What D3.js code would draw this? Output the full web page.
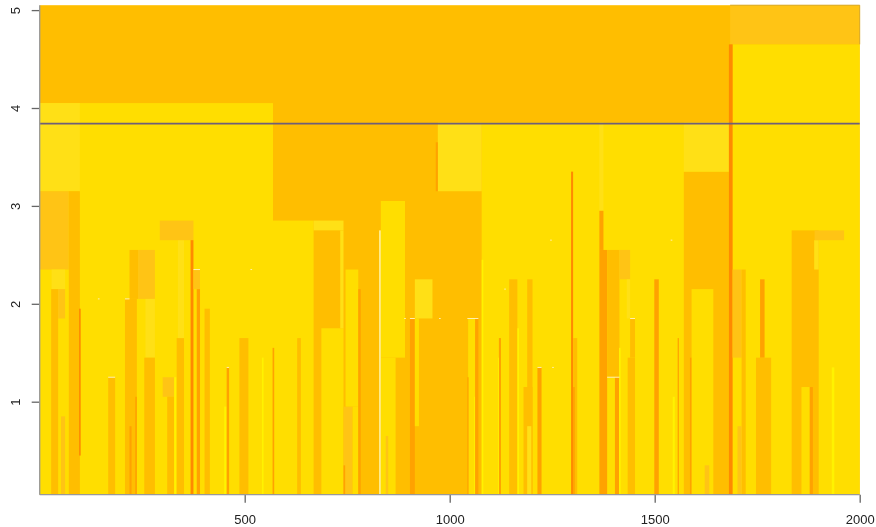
<!DOCTYPE html>
<html>
<head>
<meta charset="utf-8">
<script src="https://cdn.jsdelivr.net/npm/d3@7"></script>
<style>
  html, body { margin: 0; padding: 0; background: #fff; }
  svg { display: block; filter: blur(0.45px); }
  text { font-family: "Liberation Sans", Arial, sans-serif; }
</style>
</head>
<body>
<script>
//cells, painted in this order so later ones sit on top
const cellX0 = [
  0, 1684, 1690, 0, 569, 1078, 0, 0, 71, 96,
  29, 28, 45, 52, 167, 208, 219, 240, 233, 219,
  258, 255, 300, 311, 328, 334, 337, 293, 368, 375,
  383, 402, 450, 456, 487, 542, 568, 628, 668, 687,
  733, 741, 741, 746, 763, 777, 828, 832, 832, 844,
  903, 915, 915, 1045, 1043, 1060, 1062, 971, 966, 1078,
  1120, 1118, 1145, 1165, 1189, 1180, 1189, 1214, 1296, 1301,
  1301, 1365, 1365, 1365, 1384, 1414, 1403, 1413, 1432, 1440,
  1434, 1499, 1544, 1556, 1571, 1571, 1586, 1590, 1622, 1681,
  1690, 1712, 1702, 1747, 1757, 1834, 1834, 1878, 1886, 1889,
  1890, 1932
]
const cellX1 = [
  2000, 2000, 2000, 569, 668, 1690, 98, 71, 98, 100,
  62, 45, 62, 62, 184, 237, 240, 281, 237, 224,
  281, 281, 328, 328, 334, 352, 352, 375, 375, 391,
  391, 415, 456, 462, 509, 546, 572, 637, 741, 741,
  741, 763, 745, 777, 777, 783, 832, 891, 868, 850,
  915, 925, 958, 1062, 1046, 1062, 1070, 1078, 971, 1082,
  1125, 1120, 1165, 1169, 1202, 1202, 1199, 1224, 1301, 1311,
  1305, 1375, 1375, 1384, 1414, 1440, 1413, 1417, 1440, 1452,
  1452, 1510, 1549, 1559, 1681, 1681, 1591, 1643, 1633, 1690,
  1712, 1722, 1712, 1784, 1768, 1900, 1858, 1886, 1900, 1900,
  1962, 1938
]
const cellY0 = [
  0.05, 4.65, 0.05, 0.05, 0.05, 0.05, 3.15, 2.35, 0.05, 0.45,
  2.15, 0.05, 1.85, 0.05, 0.05, 0.05, 2.05, 2.05, 0.05, 0.05,
  1.45, 0.05, 1.05, 0.05, 0.05, 0.05, 1.65, 2.65, 0.05, 2.15,
  0.05, 0.05, 0.05, 0.05, 0.05, 0.05, 0.05, 0.05, 2.75, 0.05,
  1.75, 0.05, 0.05, 0.95, 0.05, 0.05, 0.05, 1.45, 0.05, 0.05,
  0.05, 0.75, 1.85, 0.05, 0.05, 0.05, 0.05, 3.15, 3.15, 0.05,
  0.05, 0.05, 0.05, 0.05, 0.05, 0.05, 0.05, 0.05, 0.05, 0.05,
  0.05, 2.95, 2.55, 0.05, 1.25, 2.25, 0.05, 0.05, 1.85, 1.45,
  0.05, 0.05, 0.05, 0.05, 0.05, 3.35, 0.05, 0.05, 0.05, 0.05,
  1.45, 0.05, 0.05, 0.05, 1.45, 1.15, 0.05, 0.05, 0.05, 2.35,
  2.65, 0.05
]
const cellY1 = [
  5.05, 5.05, 4.65, 4.05, 2.85, 3.85, 4.05, 3.15, 3.15, 1.95,
  2.35, 2.15, 2.15, 0.85, 1.25, 2.05, 2.55, 2.55, 1.05, 0.75,
  2.05, 1.45, 1.25, 1.05, 1.25, 1.65, 2.65, 2.85, 2.65, 2.35,
  2.15, 1.95, 0.95, 1.35, 1.65, 1.45, 1.55, 1.65, 2.85, 1.75,
  2.75, 0.95, 0.35, 2.35, 0.95, 2.15, 2.75, 3.05, 1.45, 0.65,
  1.85, 1.85, 2.25, 1.85, 1.25, 1.05, 1.85, 3.85, 3.65, 2.45,
  1.65, 1.45, 2.25, 1.75, 2.25, 1.15, 0.75, 1.35, 3.35, 1.65,
  1.15, 3.85, 2.95, 2.55, 2.55, 2.55, 1.25, 1.55, 2.25, 1.85,
  1.45, 2.25, 1.05, 1.65, 3.35, 3.85, 1.45, 2.15, 0.35, 4.65,
  2.35, 2.35, 0.75, 1.45, 2.25, 2.75, 1.15, 1.15, 1.15, 2.65,
  2.75, 1.35
]
const cellLevel = [
  'M', 'L', 'Y', 'Y', 'Y', 'Y', 'P', 'L', 'M', 'S',
  'P', 'M', 'L', 'L', 'M', 'M', 'M', 'L', 'O', 'O',
  'P', 'M', 'L', 'M', 'B', 'M', 'P', 'L', 'S', 'L',
  'O', 'M', 'B', 'O', 'M', 'B', 'O', 'M', 'P', 'Y',
  'P', 'L', 'O', 'Y', 'Y', 'O', 'W', 'Y', 'Y', 'L',
  'O', 'Y', 'P', 'Y', 'O', 'B', 'O', 'P', 'O', 'B',
  'O', 'B', 'M', 'B', 'M', 'M', 'P', 'O', 'S', 'M',
  'O', 'P', 'O', 'O', 'M', 'L', 'O', 'B', 'P', 'M',
  'M', 'O', 'B', 'O', 'M', 'P', 'O', 'Y', 'L', 'S',
  'L', 'M', 'L', 'M', 'O', 'M', 'M', 'O', 'M', 'P',
  'L', 'B'
]

//tiny pale caps and specks on top of some cells
const capX0 = [167, 208, 375, 456, 903, 1043, 1214, 1384, 1440, 142, 514, 1245, 1133, 1250, 889, 974, 1539]
const capX1 = [184, 219, 391, 462, 915, 1070, 1224, 1414, 1452, 146, 518, 1249, 1137, 1254, 893, 978, 1543]
const capY = [1.25, 2.05, 2.35, 1.35, 1.85, 1.85, 1.35, 1.25, 1.85, 2.05, 2.35, 2.65, 2.15, 1.35, 1.85, 1.85, 2.65]

const xTicks = [500, 1000, 1500, 2000]
const yTicks = [1, 2, 3, 4, 5]
const hLine = 3.84

//dimensions of svg
const width = 876
const height = 527

const xScale = d3.scaleLinear().domain([0, 2000]).range([39.7, 859.7])
const yScale = d3.scaleLinear().domain([0, 5]).range([499.6, 10.1])

const color = d3.scaleOrdinal()
  .domain(['Y', 'M', 'L', 'P', 'O', 'S', 'B', 'W'])
  .range(['#ffde00', '#ffbe00', '#ffc415', '#ffe016', '#ffa200', '#ff8a00', '#fff200', '#fff6a8'])

const cells = d3.range(cellX0.length).map((i) => ({
  x0: cellX0[i], x1: cellX1[i], y0: cellY0[i], y1: cellY1[i], level: cellLevel[i]
}))

const svg = d3.select('body')
  .append('svg')
  .attr('width', width)
  .attr('height', height)

svg.selectAll('rect.cell')
  .data(cells)
  .enter()
  .append('rect')
  .attr('class', 'cell')
  .attr('x', (d) => xScale(d.x0))
  .attr('y', (d) => yScale(d.y1))
  .attr('width', (d) => xScale(d.x1) - xScale(d.x0))
  .attr('height', (d) => yScale(d.y0) - yScale(d.y1))
  .attr('fill', (d) => color(d.level))

svg.selectAll('line.cap')
  .data(capY)
  .enter()
  .append('line')
  .attr('class', 'cap')
  .attr('x1', (d, i) => xScale(capX0[i]))
  .attr('x2', (d, i) => xScale(capX1[i]))
  .attr('y1', (d) => yScale(d))
  .attr('y2', (d) => yScale(d))
  .attr('stroke', '#fff0b0')
  .attr('stroke-width', 1)

//darker edge round the top right cell
svg.append('path')
  .attr('d', d3.line()([
    [xScale(1684), yScale(5.05)],
    [xScale(2000), yScale(5.05)],
    [xScale(2000), yScale(4.65)]
  ]))
  .attr('fill', 'none')
  .attr('stroke', '#d8aa2c')
  .attr('stroke-width', 1)

svg.append('line')
  .attr('x1', xScale(0))
  .attr('x2', xScale(2000))
  .attr('y1', yScale(hLine))
  .attr('y2', yScale(hLine))
  .attr('stroke', '#6f5f78')
  .attr('stroke-width', 1.7)

const xAxis = d3.axisBottom(xScale).tickValues(xTicks).tickSize(8).tickPadding(12).tickFormat(d3.format('d'))
const yAxis = d3.axisLeft(yScale).tickValues(yTicks).tickSize(8).tickPadding(9).tickFormat(d3.format('d'))

const gx = svg.append('g')
  .attr('transform', 'translate(0,' + yScale(0.05) + ')')
  .call(xAxis)
gx.select('.domain').remove()

const gy = svg.append('g')
  .attr('transform', 'translate(' + xScale(0) + ',0)')
  .call(yAxis)
gy.select('.domain').remove()

//axis lines run along the whole image edge
svg.append('line')
  .attr('x1', xScale(0))
  .attr('x2', xScale(0))
  .attr('y1', yScale(5.05))
  .attr('y2', yScale(0.05))
  .attr('stroke', '#999')
  .attr('stroke-width', 1.3)

svg.append('line')
  .attr('x1', xScale(0))
  .attr('x2', xScale(2000))
  .attr('y1', yScale(0.05))
  .attr('y2', yScale(0.05))
  .attr('stroke', '#999')
  .attr('stroke-width', 1.3)

svg.selectAll('.tick line').attr('stroke', '#666').attr('stroke-width', 1.3)
svg.selectAll('.tick text').attr('font-size', 13).attr('fill', '#222')

//R style vertical labels on the left
gy.selectAll('.tick text')
  .attr('text-anchor', 'middle')
  .attr('dy', 0)
  .attr('x', 0)
  .attr('y', 0)
  .attr('transform', 'translate(-20,0) rotate(-90)')
</script>
</body>
</html>
